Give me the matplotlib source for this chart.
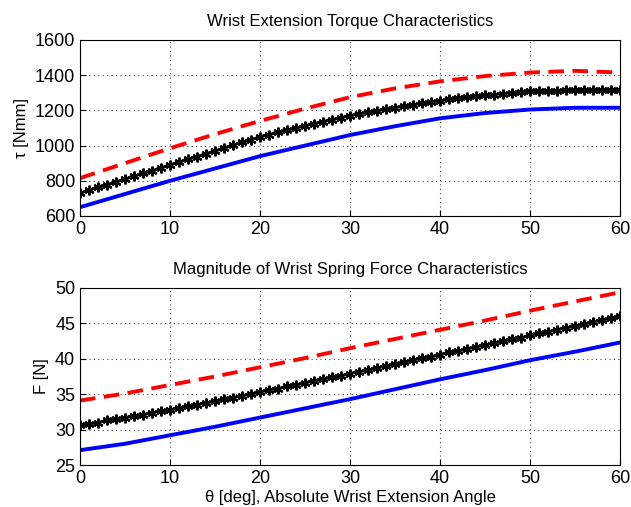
import numpy as np
import matplotlib.pyplot as plt

plt.rcParams['font.family'] = ['Liberation Sans', 'DejaVu Sans']

# torque (top), 5 deg steps for the plain lines
ang5 = [0, 5, 10, 15, 20, 25, 30, 35, 40, 45, 50, 55, 60]
tau_red = [815, 900, 985, 1065, 1140, 1210, 1275, 1325, 1365, 1395, 1415, 1425, 1415]
tau_blue = [650, 725, 800, 870, 940, 1000, 1060, 1110, 1155, 1185, 1205, 1215, 1215]

# black starred curve, 1 deg steps
ang1 = list(range(0, 61))
tau_black = [730, 746, 762, 778, 794, 810, 826, 842, 858, 874,
             890, 906, 922, 938, 954, 970, 986, 1002, 1018, 1034,
             1050, 1063, 1076, 1088, 1100, 1112, 1124, 1136, 1147, 1159,
             1170, 1180, 1189, 1198, 1207, 1216, 1224, 1232, 1240, 1248,
             1255, 1262, 1268, 1274, 1280, 1285, 1290, 1295, 1300, 1304,
             1308, 1310, 1312, 1313, 1314, 1315, 1315, 1315, 1316, 1316,
             1315]

# spring force (bottom)
f_red = [34.1, 35.1, 36.3, 37.5, 38.8, 40.1, 41.5, 42.8, 44.1, 45.4, 46.8, 48.1, 49.4]
f_blue = [27.1, 28.0, 29.2, 30.4, 31.7, 33.0, 34.3, 35.7, 37.1, 38.4, 39.8, 41.0, 42.3]
f_black = [30.6, 30.8, 31.0, 31.3, 31.5, 31.7, 31.9, 32.1, 32.4, 32.6,
           32.8, 33.0, 33.3, 33.5, 33.8, 34.0, 34.3, 34.5, 34.8, 35.0,
           35.3, 35.6, 35.8, 36.1, 36.3, 36.6, 36.9, 37.1, 37.4, 37.6,
           37.9, 38.2, 38.4, 38.7, 39.0, 39.2, 39.5, 39.8, 40.1, 40.3,
           40.6, 40.9, 41.1, 41.4, 41.7, 41.9, 42.2, 42.5, 42.8, 43.0,
           43.3, 43.6, 43.8, 44.1, 44.4, 44.6, 44.9, 45.2, 45.5, 45.7,
           46.0]

fig = plt.figure(figsize=(6.31, 5.07), dpi=100)
ax1 = fig.add_axes([80/631, 1 - 216/507, 540/631, 176/507])
ax2 = fig.add_axes([80/631, 1 - 465/507, 540/631, 177/507])

star = (6, 2, 0)  # matlab-style asterisk

for ax in (ax1, ax2):
    ax.grid(True, linestyle=(0, (1, 3)), color='#444444', linewidth=0.8)
    ax.tick_params(direction='in', labelsize=13, length=4)
    ax.set_xlim(0, 60)
    ax.set_xticks([0, 10, 20, 30, 40, 50, 60])

ax1.plot(ang5, tau_red, '--', color='red', linewidth=2.8, dashes=(4, 2.2))
ax1.plot(ang1, tau_black, '-', color='black', marker=star, markersize=7,
         markeredgewidth=1.6, linewidth=2)
ax1.plot(ang5, tau_blue, '-', color='blue', linewidth=2.8)
ax1.set_ylim(600, 1600)
ax1.set_yticks([600, 800, 1000, 1200, 1400, 1600])
ax1.set_title('Wrist Extension Torque Characteristics', fontsize=12, pad=10)
ax1.set_ylabel('τ [Nmm]', fontsize=12)

ax2.plot(ang5, f_red, '--', color='red', linewidth=2.8, dashes=(4, 2.2))
ax2.plot(ang1, f_black, '-', color='black', marker=star, markersize=7,
         markeredgewidth=1.6, linewidth=2)
ax2.plot(ang5, f_blue, '-', color='blue', linewidth=2.8)
ax2.set_ylim(25, 50)
ax2.set_yticks([25, 30, 35, 40, 45, 50])
ax2.set_title('Magnitude of Wrist Spring Force Characteristics', fontsize=12, pad=10)
ax2.set_ylabel('F [N]', fontsize=12)
ax2.set_xlabel('θ [deg], Absolute Wrist Extension Angle', fontsize=12, labelpad=2)

fig.savefig('out.png', dpi=100)
